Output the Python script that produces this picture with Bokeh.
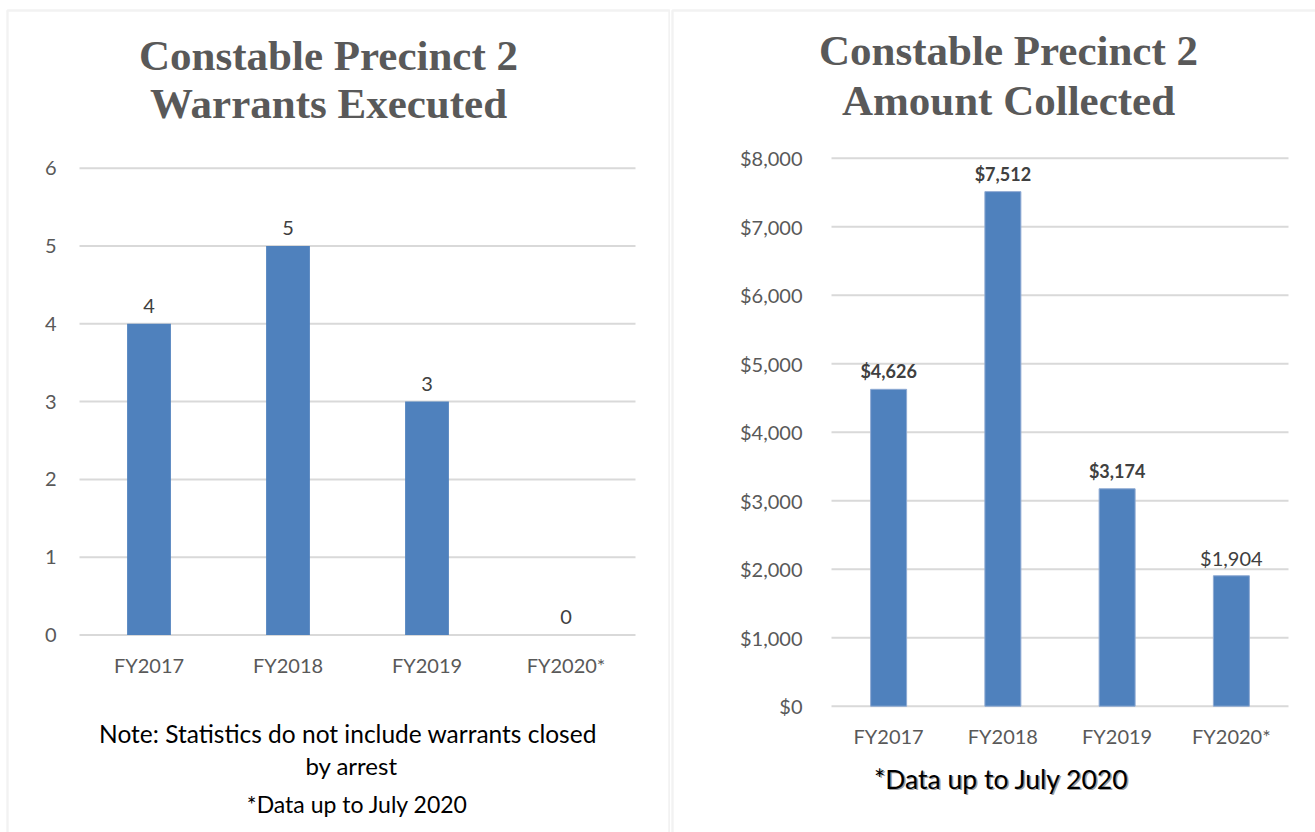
from bokeh.plotting import figure
from bokeh.models import Range1d, FixedTicker, NumeralTickFormatter, Label, PolyAnnotation, ColumnDataSource
from bokeh.layouts import row
from bokeh.core.properties import value
from bokeh.embed import file_html
from bokeh.resources import INLINE

# ---- data ----
categories = ["FY2017", "FY2018", "FY2019", "FY2020*"]
warrants = [4, 5, 3, 0]
amounts = [4626, 7512, 3174, 1904]
warrant_ticks = [0, 1, 2, 3, 4, 5, 6]
amount_ticks = [0, 1000, 2000, 3000, 4000, 5000, 6000, 7000, 8000]
amount_bold = [True, True, True, False]

BAR = "#4f81bd"
GRID = "#d9d9d9"
AXC = "#595959"
VALC = "#404040"
SANS = "Lato"
SERIF = "Liberation Serif"
H = 832
N = len(categories)
idx = list(range(N))


def x_range_for(fl, fr, width):
    unit = (fr - fl) / N
    return Range1d(-0.5 - fl / unit, N - 0.5 + (width - fr) / unit)


def y_range_for(px0, pxtop, vtop):
    per = (px0 - pxtop) / vtop
    return Range1d(-(H - px0) / per, px0 / per)


def make(width, fl, fr, px0, pxtop, vtop, ticks, standoff_y):
    p = figure(width=width, height=H, x_range=x_range_for(fl, fr, width),
               y_range=y_range_for(px0, pxtop, vtop),
               output_backend="svg", toolbar_location=None, title=None,
               min_border=0, min_border_left=0, min_border_right=0,
               min_border_top=0, min_border_bottom=0)
    p.outline_line_color = None
    p.background_fill_color = "white"
    p.border_fill_color = "white"
    p.xgrid.grid_line_color = None
    p.ygrid.grid_line_color = None
    for ax in (p.xaxis[0], p.yaxis[0]):
        ax.axis_line_color = None
        ax.major_tick_line_color = None
        ax.minor_tick_line_color = None
        ax.major_tick_out = 0
        ax.major_tick_in = 0
        ax.major_label_text_font = SANS
        ax.major_label_text_font_size = "20px"
        ax.major_label_text_color = AXC
    p.xaxis[0].fixed_location = 0
    p.xaxis[0].ticker = FixedTicker(ticks=idx)
    p.xaxis[0].major_label_overrides = {i: c for i, c in zip(idx, categories)}
    p.xaxis[0].major_label_standoff = 18
    p.yaxis[0].fixed_location = -0.5
    p.yaxis[0].ticker = FixedTicker(ticks=ticks)
    p.yaxis[0].major_label_standoff = standoff_y
    # horizontal gridlines across the category band
    p.segment(x0=[-0.5] * len(ticks), x1=[N - 0.5] * len(ticks), y0=ticks, y1=ticks,
              line_color=GRID, line_width=2)
    return p


def border(p, left, right):
    xs = [left, right, right, left]
    ys = [H - 10, H - 10, -50, -50]
    p.add_layout(PolyAnnotation(xs=xs, ys=ys, xs_units="screen", ys_units="screen",
                                fill_alpha=0, line_color="#d4d4d4", line_width=2.5))


def label(p, text, x, y, size, color="black", font=SANS, style_="normal"):
    p.add_layout(Label(x=x, y=H - y, x_units="screen", y_units="screen", text=text,
                       text_font=font, text_font_size=size, text_color=color,
                       text_font_style=style_, text_align="center", text_baseline="middle"))


# ---- left chart ----
p1 = make(670, 79, 635, 634.5, 167.7, warrant_ticks[-1], warrant_ticks, 23)
src1 = ColumnDataSource(dict(x=idx, val=warrants, lab=[str(v) for v in warrants]))
p1.vbar(x="x", top="val", bottom=0, width=0.315, source=src1, fill_color=BAR, line_color=None)
p1.text(x="x", y="val", text="lab", source=src1, text_font=value(SANS), text_font_size="20px",
        text_color=VALC, text_align="center", text_baseline="alphabetic", y_offset=-18)
label(p1, "Constable Precinct 2", 328, 55, "43px", AXC, SERIF, "bold")
label(p1, "Warrants Executed", 328, 103, "43px", AXC, SERIF, "bold")
label(p1, "Note: Statistics do not include warrants closed", 347.5, 733, "24.5px")
label(p1, "by arrest", 351, 765, "24px")
label(p1, "*Data up to July 2020", 357, 803, "23px")
border(p1, 7, 669)

# ---- right chart ----
p2 = make(645, 161, 618, 705.7, 157.7, amount_ticks[-1], amount_ticks, 29)
p2.yaxis[0].formatter = NumeralTickFormatter(format="$0,0")
src2 = ColumnDataSource(dict(x=idx, val=amounts))
p2.vbar(x="x", top="val", bottom=0, width=0.315, source=src2, fill_color=BAR,
        line_color="#8eaad3", line_width=1)
bold_src = ColumnDataSource(dict(
    x=[i for i, b in zip(idx, amount_bold) if b],
    val=[v for v, b in zip(amounts, amount_bold) if b],
    lab=["${:,}".format(v) for v, b in zip(amounts, amount_bold) if b]))
norm_src = ColumnDataSource(dict(
    x=[i for i, b in zip(idx, amount_bold) if not b],
    val=[v for v, b in zip(amounts, amount_bold) if not b],
    lab=["${:,}".format(v) for v, b in zip(amounts, amount_bold) if not b]))
p2.text(x="x", y="val", text="lab", source=bold_src, text_font=value(SANS), text_font_size="18px",
        text_font_style="bold", text_color=VALC, text_align="center", text_baseline="alphabetic", y_offset=-18)
p2.text(x="x", y="val", text="lab", source=norm_src, text_font=value(SANS), text_font_size="20px",
        text_color=VALC, text_align="center", text_baseline="alphabetic", y_offset=-18)
label(p2, "Constable Precinct 2", 338, 50, "43px", AXC, SERIF, "bold")
label(p2, "Amount Collected", 338, 100, "43px", AXC, SERIF, "bold")
label(p2, "*Data up to July 2020", 332.5, 779.5, "26.5px", "#a0a0a0")
label(p2, "*Data up to July 2020", 331, 778, "26.5px", "black")
border(p2, 2, 700)

layout = row(p1, p2, spacing=0)
open("out.html", "w").write(file_html(layout, INLINE))
